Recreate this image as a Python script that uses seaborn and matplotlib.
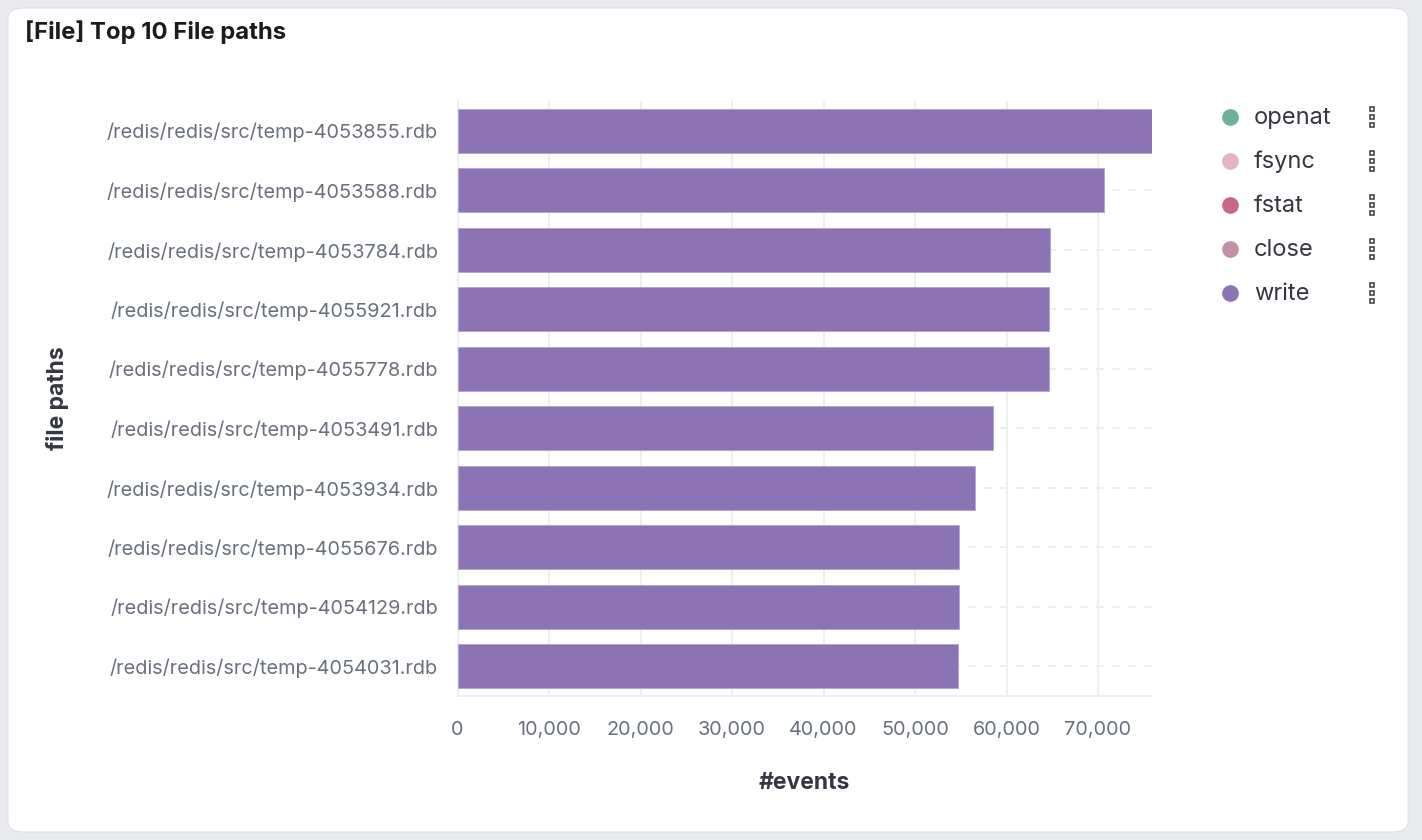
import matplotlib
matplotlib.use("Agg")
import matplotlib.pyplot as plt
import seaborn as sns
import pandas as pd
from matplotlib.patches import FancyBboxPatch
from matplotlib.lines import Line2D
from matplotlib.ticker import FuncFormatter, MultipleLocator

# data
file_paths = [
    "/redis/redis/src/temp-4053855.rdb",
    "/redis/redis/src/temp-4053588.rdb",
    "/redis/redis/src/temp-4053784.rdb",
    "/redis/redis/src/temp-4055921.rdb",
    "/redis/redis/src/temp-4055778.rdb",
    "/redis/redis/src/temp-4053491.rdb",
    "/redis/redis/src/temp-4053934.rdb",
    "/redis/redis/src/temp-4055676.rdb",
    "/redis/redis/src/temp-4054129.rdb",
    "/redis/redis/src/temp-4054031.rdb",
]
write_events = [75900, 70650, 64750, 64680, 64650, 58490, 56560, 54840, 54810, 54730]

legend_names = ["openat", "fsync", "fstat", "close", "write"]
legend_colors = ["#6db19a", "#e4b3c4", "#c9668a", "#c490a8", "#8c73b3"]

df = pd.DataFrame({"path": file_paths, "events": write_events})

sns.set_style("white")
plt.rcParams["font.family"] = ["Inter", "DejaVu Sans"]

W, H = 1422, 840
fig = plt.figure(figsize=(W / 100, H / 100), dpi=100)
fig.patch.set_facecolor("#e9eaee")

# white card behind everything
card = FancyBboxPatch((8 / W, 8 / H), 1400 / W, 824 / H,
                      boxstyle="round,pad=0,rounding_size=0.012",
                      transform=fig.transFigure, facecolor="white",
                      edgecolor="#dfe1e6", lw=0.8, zorder=-10)
fig.patches.append(card)

fig.text(25 / W, 1 - 32 / H, "[File] Top 10 File paths", fontsize=17.2,
         fontweight="bold", color="#1a1c21", va="center", ha="left")

ax = fig.add_axes([457.5 / W, 1 - 696 / H, (1152 - 457.5) / W, (696 - 101) / H])
ax.set_zorder(5)
ax.set_facecolor("none")
sns.barplot(data=df, y="path", x="events", orient="h", color="#8c73b3",
            saturation=1, width=0.745, ax=ax, zorder=3,
            edgecolor="#b3a3cf", linewidth=0.6)

ax.set_xlim(0, max(write_events))
ax.xaxis.set_major_locator(MultipleLocator(10000))
ax.xaxis.set_major_formatter(FuncFormatter(lambda v, p: f"{int(v):,}"))

ax.set_axisbelow(True)
ax.xaxis.grid(True, color="#eeeff3", lw=1.4)
ax.yaxis.grid(True, color="#eceef2", lw=1.4, linestyle=(0, (4.1, 4.1)))

for s in ["top", "right"]:
    ax.spines[s].set_visible(False)
ax.spines["left"].set_color("#eeeff3")
ax.spines["bottom"].set_color("#eeeff3")
ax.spines["left"].set_linewidth(1.4)
ax.spines["bottom"].set_linewidth(1.4)

ax.tick_params(axis="both", length=0, labelsize=14.3, labelcolor="#69707d")
ax.tick_params(axis="y", pad=14)
ax.tick_params(axis="x", pad=18)

ax.set_xlabel("#events", fontsize=16.5, fontweight="bold", color="#343741",
              labelpad=24)
ax.set_ylabel("")
fig.text(58 / W, 1 - 398 / H, "file paths", rotation=90, fontsize=16.5,
         fontweight="bold", color="#343741", ha="center", va="center")

# legend with dot markers and the little action icons
for i, (name, col) in enumerate(zip(legend_names, legend_colors)):
    y = 1 - (117 + 44 * i) / H
    fig.add_artist(Line2D([1230 / W], [y], marker="o", markersize=11,
                          color=col, transform=fig.transFigure, lw=0))
    fig.text(1254 / W, y - 1 / H, name, fontsize=17, color="#343741",
             va="center", ha="left")
    for dy in (-8, 0, 8):
        fig.add_artist(Line2D([1372 / W], [y + dy / H], marker="s",
                              markersize=3.5, markerfacecolor="white",
                              markeredgecolor="#343741", markeredgewidth=1.1,
                              transform=fig.transFigure, lw=0))

fig.savefig("out.png", dpi=100, facecolor=fig.get_facecolor())
